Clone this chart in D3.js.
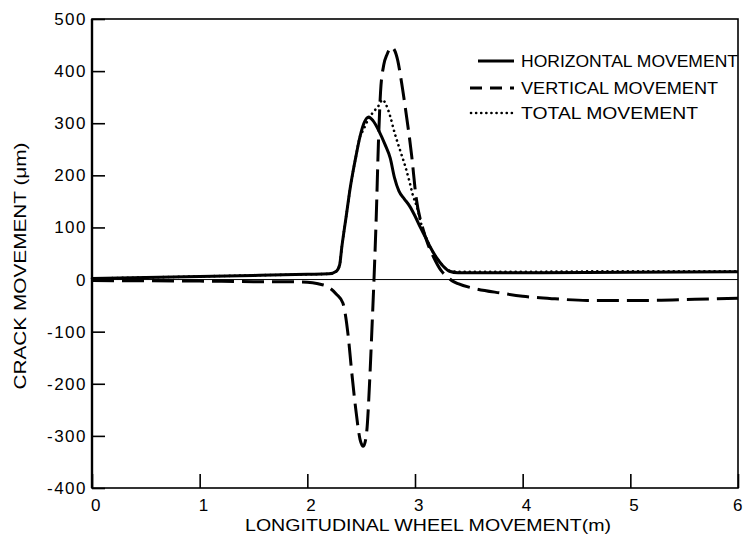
<!DOCTYPE html>
<html>
<head>
<meta charset="utf-8">
<script src="https://cdn.jsdelivr.net/npm/d3@7"></script>
<style>
  body { margin: 0; background: #fff; }
  text { font-family: "Liberation Sans", Arial, sans-serif; fill: #000; }
</style>
</head>
<body>
<div id="chart"></div>
<script>
// values
var horizX = [0, 0.5, 1, 1.5, 2, 2.2, 2.27, 2.3, 2.32, 2.36, 2.4, 2.45, 2.49, 2.53, 2.57, 2.61, 2.67, 2.72, 2.77, 2.81, 2.85, 2.9, 2.95, 3, 3.05, 3.1, 3.14, 3.2, 3.26, 3.32, 3.4, 4, 5, 6];
var horizY = [2, 4, 6, 8, 10, 11, 16, 28, 62, 120, 178, 235, 275, 302, 312, 305, 283, 260, 233, 195, 170, 155, 141, 122, 100, 80, 63, 42, 26, 16, 13, 13, 14, 15];

var vertX = [0, 1, 1.5, 1.75, 2.0, 2.1, 2.2, 2.27, 2.33, 2.38, 2.41, 2.45, 2.49, 2.52, 2.55, 2.58, 2.6, 2.62, 2.64, 2.66, 2.68, 2.71, 2.74, 2.78, 2.81, 2.84, 2.87, 2.91, 2.97, 3.01, 3.07, 3.12, 3.18, 3.24, 3.3, 3.35, 3.4, 3.55, 3.8, 4.0, 4.3, 4.6, 5.2, 5.6, 6];
var vertY = [-2, -3, -4, -4, -5, -8, -15, -28, -45, -109, -173, -249, -307, -320, -295, -190, -95, 5, 120, 260, 360, 412, 432, 446, 440, 420, 385, 330, 236, 158, 100, 68, 40, 18, 5, -3, -8, -17, -26, -32, -37, -40, -40, -38, -36];

var totalX = [0, 0.5, 1, 1.5, 2, 2.2, 2.27, 2.3, 2.32, 2.36, 2.4, 2.45, 2.49, 2.52, 2.56, 2.6, 2.66, 2.7, 2.73, 2.77, 2.81, 2.86, 2.91, 2.95, 2.98, 3.02, 3.06, 3.1, 3.14, 3.2, 3.26, 3.32, 3.4, 4, 5, 6];
var totalY = [2, 4, 6, 8, 10, 11, 16, 28, 62, 120, 178, 235, 275, 287, 305, 318, 333, 345, 336, 313, 282, 249, 217, 187, 162, 138, 105, 82, 63, 42, 26, 17, 15, 15, 16, 16];

var xTicks = [0, 1, 2, 3, 4, 5, 6];
var yTicks = [-400, -300, -200, -100, 0, 100, 200, 300, 400, 500];
var seriesNames = ["HORIZONTAL MOVEMENT", "VERTICAL MOVEMENT", "TOTAL MOVEMENT"];

var W = 745, H = 535;
var box = {left: 92, right: 738, top: 19, bottom: 488};

var svg = d3.select("#chart").append("svg")
    .attr("width", W)
    .attr("height", H);

var x = d3.scaleLinear().domain([0, 6]).range([box.left, box.right]);
var y = d3.scaleLinear().domain([-400, 500]).range([box.bottom, box.top]);

// axes with inward ticks
var yAxis = svg.append("g")
    .attr("transform", "translate(" + box.left + ",0)")
    .call(d3.axisLeft(y).tickValues(yTicks).tickSize(-13).tickSizeOuter(0).tickPadding(5)
      .tickFormat(function(d) { return d < 0 ? "-" + Math.abs(d) : d; }));

var xAxis = svg.append("g")
    .attr("transform", "translate(0," + box.bottom + ")")
    .call(d3.axisBottom(x).tickValues(xTicks).tickSize(-14).tickSizeOuter(0).tickPadding(11)
      .tickFormat(d3.format("d")));

svg.selectAll(".tick line").attr("stroke", "#000").attr("stroke-width", 1.6);
svg.selectAll(".domain").remove();
svg.selectAll(".tick text")
    .attr("font-size", 17)
    .attr("letter-spacing", 1.5)
    .attr("fill", "#000")
    .attr("font-family", "Liberation Sans, Arial, sans-serif");
xAxis.selectAll(".tick text").attr("dx", function(d) { return d == 6 ? 0 : 4; });

// frame
svg.append("rect")
    .attr("x", box.left).attr("y", box.top)
    .attr("width", box.right - box.left).attr("height", box.bottom - box.top)
    .attr("fill", "none").attr("stroke", "#000").attr("stroke-width", 1.6);
svg.append("line")
    .attr("x1", box.left).attr("x2", box.left)
    .attr("y1", box.top).attr("y2", box.bottom)
    .attr("stroke", "#000").attr("stroke-width", 2.4);

// zero line
svg.append("line")
    .attr("x1", x(0)).attr("x2", x(6))
    .attr("y1", y(0)).attr("y2", y(0))
    .attr("stroke", "#000").attr("stroke-width", 1);

function pts(xs, ys) {
  return xs.map(function(v, i) { return [v, ys[i]]; });
}

var line = d3.line()
    .x(function(d) { return x(d[0]); })
    .y(function(d) { return y(d[1]); })
    .curve(d3.curveMonotoneX);

var styles = [
  {width: 3, dash: null, cap: "butt"},
  {width: 3, dash: "22,8", cap: "butt"},
  {width: 2.6, dash: "0.1,5", cap: "round"}
];

var series = [pts(horizX, horizY), pts(vertX, vertY), pts(totalX, totalY)];

svg.append("g").selectAll("path")
    .data(series)
  .enter().append("path")
    .attr("d", line)
    .attr("fill", "none")
    .attr("stroke", "#000")
    .attr("stroke-width", function(d, i) { return styles[i].width; })
    .attr("stroke-dasharray", function(d, i) { return styles[i].dash; })
    .attr("stroke-linecap", function(d, i) { return styles[i].cap; })
    .attr("stroke-linejoin", "round");

// legend
var legY = [61, 88, 113];
var legStart = [478, 470, 471];
var legLen = [217, 197, 177];
var leg = svg.append("g").selectAll("g")
    .data(seriesNames)
  .enter().append("g");

leg.append("line")
    .attr("x1", function(d, i) { return legStart[i]; })
    .attr("x2", 514)
    .attr("y1", function(d, i) { return legY[i]; })
    .attr("y2", function(d, i) { return legY[i]; })
    .attr("stroke", "#000")
    .attr("stroke-width", function(d, i) { return styles[i].width; })
    .attr("stroke-dasharray", function(d, i) { return i == 1 ? "12,8" : styles[i].dash; })
    .attr("stroke-linecap", function(d, i) { return styles[i].cap; });

leg.append("text")
    .attr("x", 521)
    .attr("y", function(d, i) { return legY[i] + 6; })
    .attr("font-size", 17)
    .attr("textLength", function(d, i) { return legLen[i]; })
    .attr("lengthAdjust", "spacingAndGlyphs")
    .text(function(d) { return d; });

// axis titles
svg.append("text")
    .attr("x", 428).attr("y", 531)
    .attr("text-anchor", "middle")
    .attr("font-size", 17)
    .attr("textLength", 366)
    .attr("lengthAdjust", "spacingAndGlyphs")
    .text("LONGITUDINAL WHEEL MOVEMENT(m)");

svg.append("text")
    .attr("transform", "translate(26,266) rotate(-90)")
    .attr("text-anchor", "middle")
    .attr("font-size", 17)
    .attr("textLength", 247)
    .attr("lengthAdjust", "spacingAndGlyphs")
    .text("CRACK MOVEMENT (\u03bcm)");
</script>
</body>
</html>
